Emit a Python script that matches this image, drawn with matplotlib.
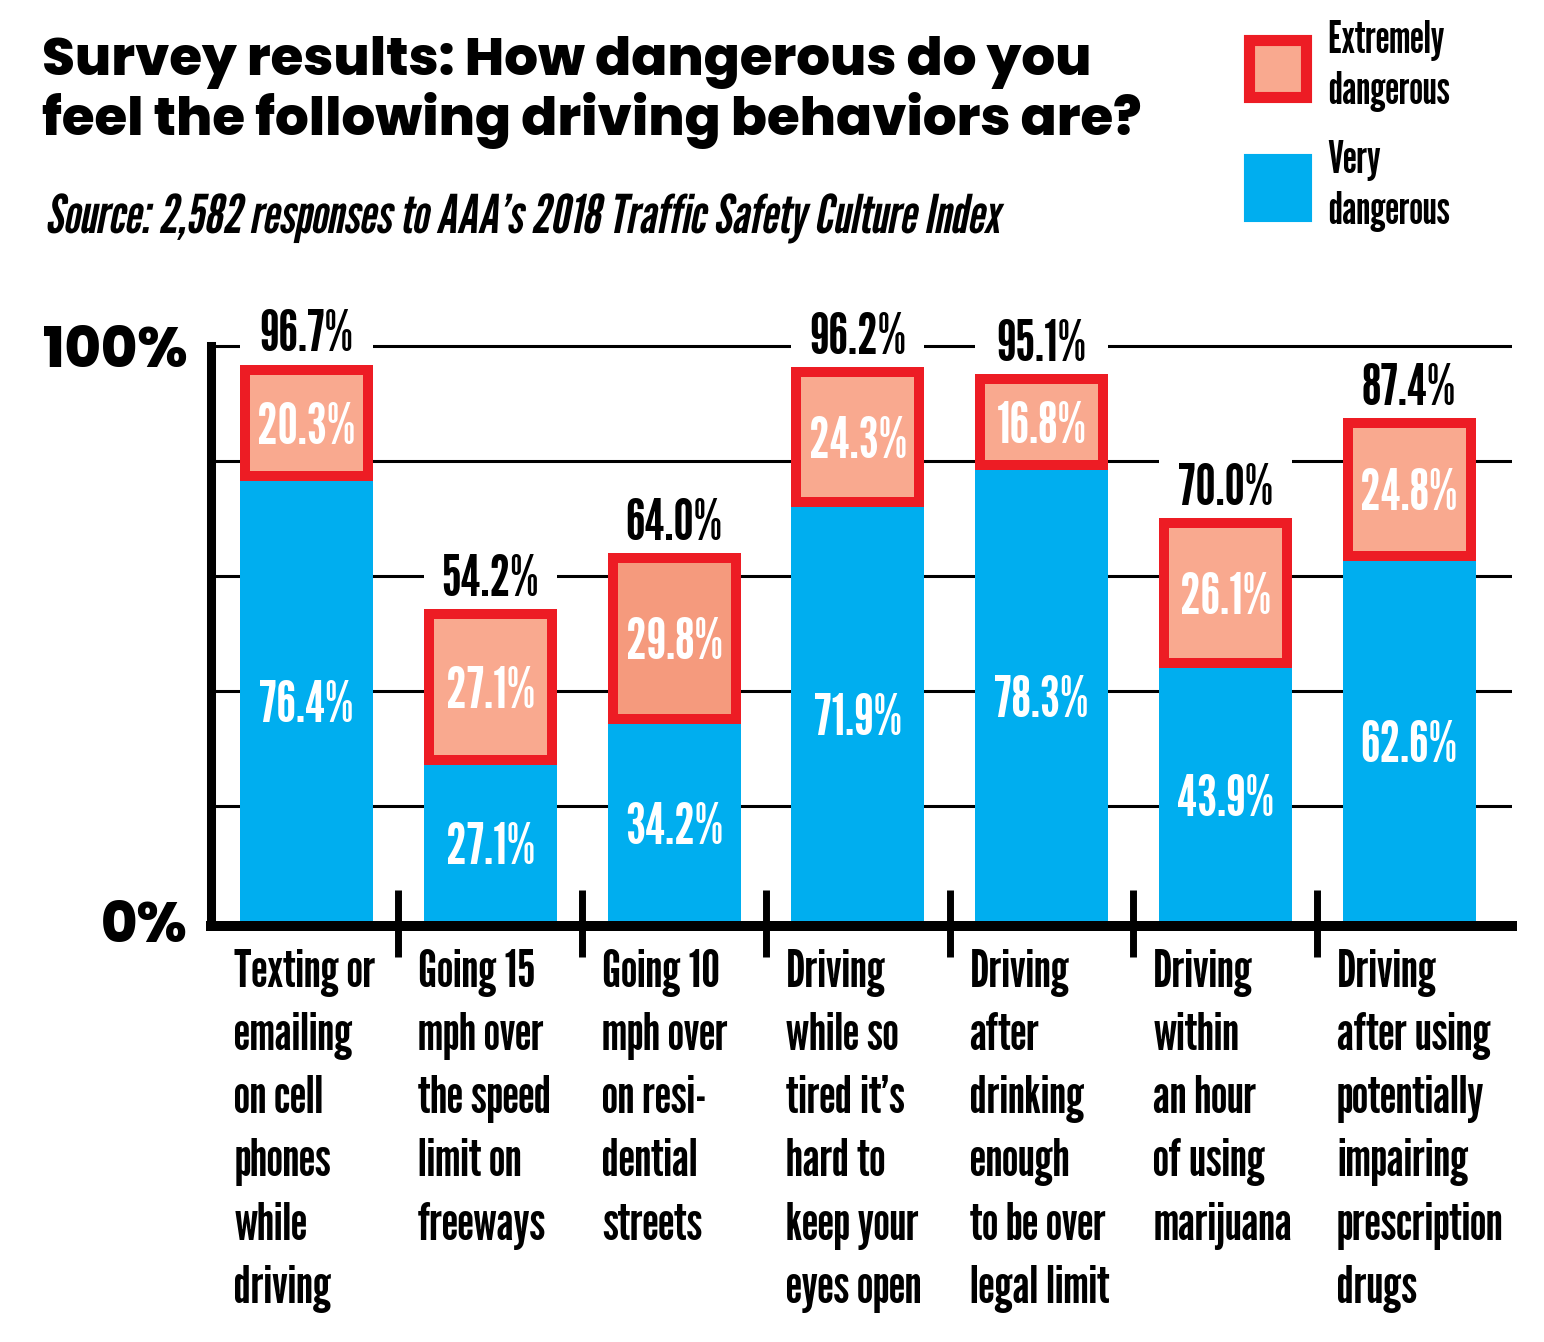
import matplotlib
matplotlib.use('Agg')
import matplotlib.pyplot as plt
import numpy as np
from matplotlib.patches import Patch
from matplotlib.patheffects import AbstractPathEffect
from matplotlib.transforms import Affine2D

behaviors = [
    'Texting or\nemailing\non cell\nphones\nwhile\ndriving',
    'Going 15\nmph over\nthe speed\nlimit on\nfreeways',
    'Going 10\nmph over\non resi-\ndential\nstreets',
    'Driving\nwhile so\ntired it\u2019s\nhard to\nkeep your\neyes open',
    'Driving\nafter\ndrinking\nenough\nto be over\nlegal limit',
    'Driving\nwithin\nan hour\nof using\nmarijuana',
    'Driving\nafter using\npotentially\nimpairing\nprescription\ndrugs',
]
extremely = [20.3, 27.1, 29.8, 24.3, 16.8, 26.1, 24.8]
very = [76.4, 27.1, 34.2, 71.9, 78.3, 43.9, 62.6]
totals = [96.7, 54.2, 64.0, 96.2, 95.1, 70.0, 87.4]
grid_levels = [20, 40, 60, 80, 100]
y_ticks = [0, 100]
y_tick_labels = ['0%', '100%']
legend_labels = ['Extremely\ndangerous', 'Very\ndangerous']

BLUE = '#00AEEF'
RED = '#ED1C24'
SALMON = '#F9A98F'
salmon_fill = [SALMON, SALMON, '#F59A7D', SALMON, SALMON, SALMON, SALMON]
COND = 'League Gothic'
GEO = 'Poppins'


class Slant(AbstractPathEffect):
    # fake italic: shear the glyph outlines before they get placed
    def __init__(self, deg=11):
        super().__init__()
        self.shear = Affine2D().skew_deg(deg, 0)

    def draw_path(self, renderer, gc, tpath, affine, rgbFace=None):
        renderer.draw_path(gc, tpath, self.shear + affine, rgbFace)


W, H = 1544, 1342
fig = plt.figure(figsize=(W / 100, H / 100), dpi=100)
renderer = fig.canvas.get_renderer()

ax = fig.add_axes([211 / W, 1 - 921 / H, (1512 - 211) / W, 610 / H])
x = np.arange(len(behaviors))
bw = 0.724
ax.set_xlim(-0.52, 6.56)
ax.set_ylim(0, 106)

# border thickness of the red box, in data units
px_x = 183.8
px_y = 5.755
ins_x = 10 / px_x
ins_y = 10 / px_y

for g in grid_levels:
    ax.axhline(g, color='black', lw=2.2, zorder=1)

# white strip behind the total labels cuts the grid lines
ax.bar(x, 11, bw, bottom=totals, color='white', zorder=2)

ax.bar(x, very, bw, color=BLUE, zorder=3)
ax.bar(x, extremely, bw, bottom=very, color=RED, zorder=3)
ax.bar(x, np.array(extremely) - 2 * ins_y, bw - 2 * ins_x,
       bottom=np.array(very) + ins_y, color=salmon_fill, zorder=3.1)

for s in ['top', 'right']:
    ax.spines[s].set_visible(False)
ax.spines['left'].set_linewidth(6.5)
ax.spines['left'].set_bounds(0, 100)
ax.spines['bottom'].set_linewidth(7.2)
ax.spines['bottom'].set_position(('outward', 3.6))

ax.set_xticks([])
ax.set_yticks(y_ticks, y_tick_labels, fontfamily=GEO, fontweight=800, fontsize=40)
ax.tick_params(axis='y', length=0, pad=17)

ax.vlines(x[:-1] + 0.5, -6.25, 5.4, color='black', lw=5, clip_on=False, zorder=4)

for i in x:
    ax.text(i, very[i] / 2, f'{very[i]:.1f}%', ha='center', va='center_baseline',
            color='white', fontsize=41, family=COND, zorder=5)
    ax.text(i, very[i] + extremely[i] / 2, f'{extremely[i]:.1f}%', ha='center',
            va='center_baseline', color='white', fontsize=41, family=COND, zorder=5)
    ax.annotate(f'{totals[i]:.1f}%', (i, totals[i]), xytext=(0, 9.5),
                textcoords='offset points', ha='center', va='baseline',
                fontsize=41, family=COND, zorder=5, annotation_clip=False)
    ax.annotate(behaviors[i], (i - bw / 2, 0), xytext=(-4, -20),
                textcoords='offset points', ha='left', va='top', fontsize=38,
                family=COND, linespacing=1.40, annotation_clip=False)

# title, sized to the width it takes in the original
t1 = fig.text(42 / W, 1 - 75 / H, 'Survey results: How dangerous do you',
              fontsize=40, family=GEO, weight=800, va='baseline')
t2 = fig.text(42 / W, 1 - 135 / H, 'feel the following driving behaviors are?',
              fontsize=40, family=GEO, weight=800, va='baseline')
fs = 40 * 1100 / t2.get_window_extent(renderer).width
t1.set_fontsize(fs)
t2.set_fontsize(fs)

src = fig.text(45 / W, 1 - 233 / H,
               'Source: 2,582 responses to AAA\u2019s 2018 Traffic Safety Culture Index',
               fontsize=36, family=COND, va='baseline', path_effects=[Slant(11)])
src.set_fontsize(36 * 955 / src.get_window_extent(renderer).width)

handles = [Patch(facecolor=SALMON, edgecolor=RED, linewidth=8),
           Patch(facecolor=BLUE, edgecolor=BLUE, linewidth=8)]
leg = fig.legend(handles, legend_labels, loc='upper left',
                 bbox_to_anchor=(1248.5 / W, 1 - 20 / H), frameon=False,
                 borderpad=0, borderaxespad=0, handlelength=1.283, handleheight=1.6,
                 handletextpad=0.5, labelspacing=0.62,
                 prop={'family': COND, 'size': 32})
for t in leg.get_texts():
    t.set_linespacing(1.31)

fig.savefig('out.png', dpi=100)
